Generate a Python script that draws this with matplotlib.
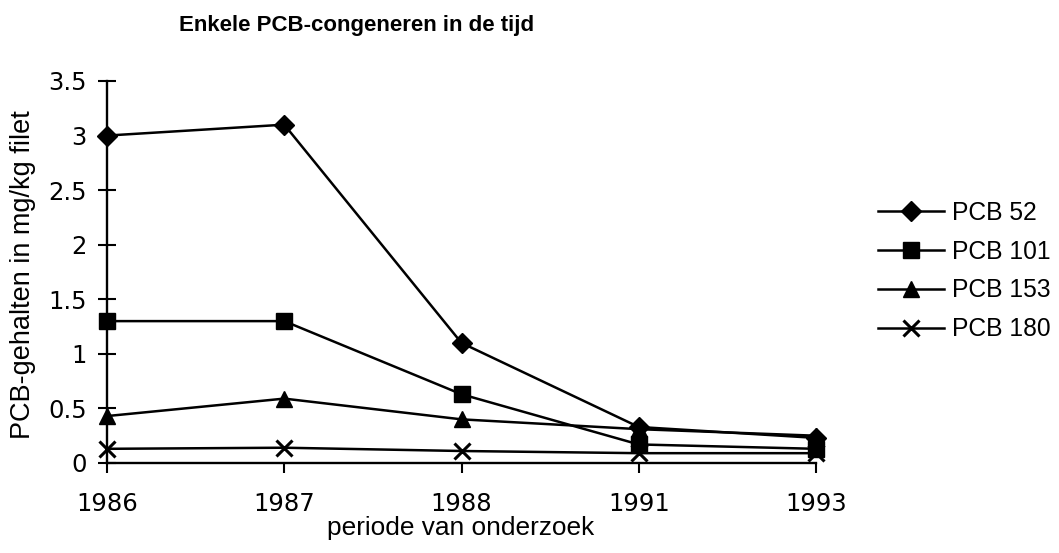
import matplotlib
matplotlib.use("Agg")
import matplotlib.pyplot as plt

# ---- data ----
years = ["1986", "1987", "1988", "1991", "1993"]
pcb52 = [3.0, 3.1, 1.1, 0.33, 0.23]
pcb101 = [1.3, 1.3, 0.63, 0.17, 0.13]
pcb153 = [0.43, 0.59, 0.40, 0.31, 0.25]
pcb180 = [0.13, 0.14, 0.11, 0.09, 0.09]
series_names = ["PCB 52", "PCB 101", "PCB 153", "PCB 180"]
y_ticks = [0, 0.5, 1, 1.5, 2, 2.5, 3, 3.5]
y_ticklabels = ["0", "0.5", "1", "1.5", "2", "2.5", "3", "3.5"]

W, H = 1059, 553
fig = plt.figure(figsize=(W / 100, H / 100), dpi=100)
fig.patch.set_facecolor("white")

left_px, right_px, top_px, bottom_px = 107, 816, 81, 463
ax = fig.add_axes([left_px / W, (H - bottom_px) / H,
                   (right_px - left_px) / W, (bottom_px - top_px) / H])

x = list(range(len(years)))
styles = [
    dict(marker="D", markersize=10.5),
    dict(marker="s", markersize=11),
    dict(marker="^", markersize=12),
    dict(marker="x", markersize=12, markeredgewidth=2.2),
]
handles = []
for vals, name, st in zip([pcb52, pcb101, pcb153, pcb180], series_names, styles):
    ln, = ax.plot(x, vals, color="black", linewidth=1.8,
                  markerfacecolor="black", markeredgecolor="black",
                  clip_on=False, label=name, **st)
    handles.append(ln)

ax.set_xlim(0, len(years) - 1)
ax.set_ylim(0, 3.5)
for s in ["top", "right"]:
    ax.spines[s].set_visible(False)
for s in ["left", "bottom"]:
    ax.spines[s].set_linewidth(1.7)

tick_font = dict(family="DejaVu Sans", size=17.5)
ax.set_xticks(x)
ax.set_xticklabels(years, fontdict=tick_font)
ax.set_yticks(y_ticks)
ax.set_yticklabels(y_ticklabels, fontdict=tick_font)
ax.tick_params(axis="x", direction="out", length=7, width=1.5, pad=14)
ax.tick_params(axis="y", direction="inout", length=13, width=1.5, pad=8)

fig.text(357 / W, (H - 25) / H, "Enkele PCB-congeneren in de tijd",
         family="Liberation Sans", weight="bold", size=16,
         ha="center", va="center")
fig.text(23 / W, (H - 275) / H, "PCB-gehalten in mg/kg filet",
         family="Liberation Sans", size=19.5, rotation=90,
         ha="center", va="center")
fig.text(461 / W, (H - 528) / H, "periode van onderzoek",
         family="Liberation Sans", size=18.9, ha="center", va="center")

fig.legend(handles=handles, labels=series_names, loc="center left",
           bbox_to_anchor=(878 / W, (H - 271) / H), frameon=False,
           prop=dict(family="Liberation Sans", size=17.7),
           handlelength=2.7, handletextpad=0.3, labelspacing=0.6,
           borderpad=0, borderaxespad=0, numpoints=1)

fig.savefig("out.png", dpi=100, facecolor="white")
